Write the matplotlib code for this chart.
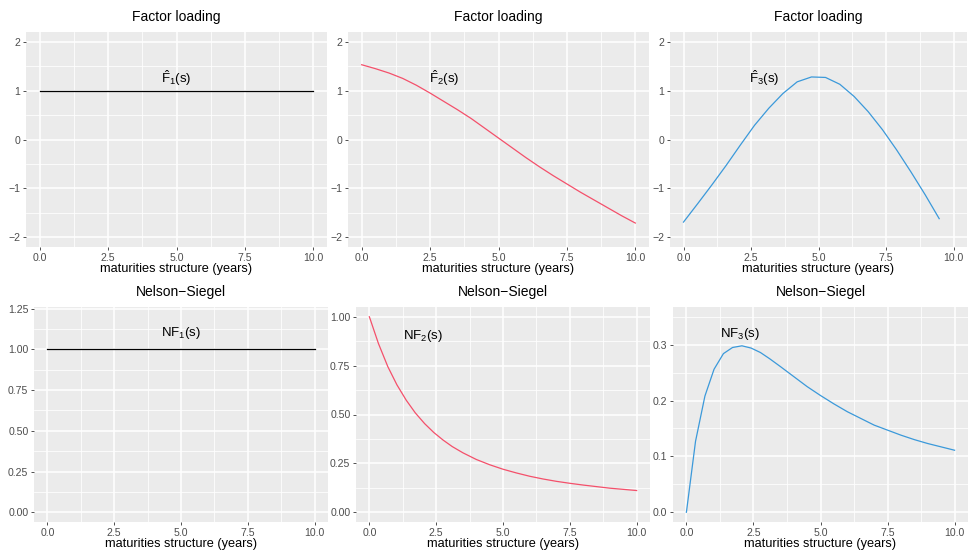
import numpy as np
import matplotlib
matplotlib.use('Agg')
from matplotlib import pyplot as plt
from matplotlib.ticker import FixedLocator, FormatStrFormatter

plt.rcParams['font.family'] = ['Liberation Sans', 'DejaVu Sans']
plt.rcParams['mathtext.fontset'] = 'custom'
plt.rcParams['mathtext.rm'] = 'Liberation Sans'
plt.rcParams['mathtext.it'] = 'Liberation Sans:italic'

# estimated factor loadings
s_f1 = [0.0, 10.0]
f1 = [1.0, 1.0]

s_f2 = [0.0, 0.5, 1.0, 1.5, 2.0, 2.5, 3.0, 3.5, 4.0, 4.5, 5.0,
        5.5, 6.0, 6.5, 7.0, 7.5, 8.0, 8.5, 9.0, 9.5, 10.0]
f2 = [1.53, 1.45, 1.36, 1.25, 1.11, 0.95, 0.78, 0.61, 0.43, 0.23, 0.03,
      -0.17, -0.37, -0.56, -0.74, -0.91, -1.08, -1.24, -1.40, -1.56, -1.71]

s_f3 = [0.0, 0.53, 1.05, 1.58, 2.11, 2.63, 3.16, 3.68, 4.21, 4.74,
        5.26, 5.79, 6.32, 6.84, 7.37, 7.89, 8.42, 8.95, 9.47]
f3 = [-1.69, -1.31, -0.93, -0.53, -0.11, 0.29, 0.64, 0.94, 1.18, 1.28,
      1.27, 1.13, 0.88, 0.57, 0.20, -0.21, -0.66, -1.13, -1.62]

# Nelson-Siegel loadings
s_ns = [0.0, 0.34, 0.69, 1.03, 1.38, 1.72, 2.07, 2.41, 2.76, 3.10, 3.5, 4.0,
        4.5, 5.0, 5.5, 6.0, 6.5, 7.0, 7.5, 8.0, 8.5, 9.0, 9.5, 10.0]
nf1 = [1.0] * len(s_ns)
nf2 = [1.0, 0.863, 0.745, 0.652, 0.573, 0.508, 0.453, 0.408, 0.369, 0.336, 0.304, 0.270,
       0.243, 0.220, 0.201, 0.184, 0.170, 0.158, 0.148, 0.139, 0.131, 0.123, 0.117, 0.111]
nf3 = [0.0, 0.127, 0.208, 0.256, 0.284, 0.295, 0.298, 0.294, 0.286, 0.275, 0.261, 0.243,
       0.225, 0.209, 0.194, 0.180, 0.168, 0.156, 0.147, 0.138, 0.130, 0.123, 0.117, 0.111]

x_ticks = [0.0, 2.5, 5.0, 7.5, 10.0]
top_yticks = [-2, -1, 0, 1, 2]

RED = '#F4506B'
BLUE = '#3B99DA'
W, H = 971, 556


def make_panel(fig, box, title):
    x0, y0, x1, y1 = box
    ax = fig.add_axes([x0 / W, 1 - y1 / H, (x1 - x0) / W, (y1 - y0) / H])
    ax.set_facecolor('#EBEBEB')
    for sp in ax.spines.values():
        sp.set_visible(False)
    ax.set_axisbelow(True)
    ax.grid(which='major', color='white', linewidth=1.1)
    ax.grid(which='minor', color='white', linewidth=0.55)
    ax.tick_params(which='major', length=2.5, width=0.6, color='#333333',
                   labelsize=7.6, labelcolor='#4D4D4D', pad=1.5)
    ax.tick_params(which='minor', length=0)
    ax.set_xlim(-0.5, 10.5)
    ax.xaxis.set_major_locator(FixedLocator(x_ticks))
    ax.xaxis.set_minor_locator(FixedLocator([1.25, 3.75, 6.25, 8.75]))
    ax.xaxis.set_major_formatter(FormatStrFormatter('%.1f'))
    ax.set_title(title, fontsize=10, pad=8)
    ax.set_xlabel('maturities structure (years)', fontsize=9.2, labelpad=0.5)
    return ax


fig = plt.figure(figsize=(W / 100, H / 100), dpi=100)

# top row: estimated factor loadings
top = [(26, 32, 327, 247), (348, 32, 649, 247), (670, 32, 967, 247)]
series = [(s_f1, f1, 'black', 5.0, r'$\hat{\mathrm{F}}_{1}\mathrm{(s)}$'),
          (s_f2, f2, RED, 3.0, r'$\hat{\mathrm{F}}_{2}\mathrm{(s)}$'),
          (s_f3, f3, BLUE, 3.0, r'$\hat{\mathrm{F}}_{3}\mathrm{(s)}$')]
for box, (xs, ys, col, lx, lab) in zip(top, series):
    ax = make_panel(fig, box, 'Factor loading')
    ax.plot(xs, ys, color=col, linewidth=0.9)
    ax.set_ylim(-2.2, 2.2)
    ax.yaxis.set_major_locator(FixedLocator(top_yticks))
    ax.yaxis.set_minor_locator(FixedLocator([-1.5, -0.5, 0.5, 1.5]))
    ax.text(lx, 1.25, lab, fontsize=9.5, ha='center', va='center')

# bottom row: Nelson-Siegel loadings
ax = make_panel(fig, (34, 307, 328, 522), 'Nelson\u2212Siegel')
ax.plot(s_ns, nf1, color='black', linewidth=0.9)
ax.set_ylim(-0.06, 1.26)
ax.yaxis.set_major_locator(FixedLocator([0, 0.25, 0.5, 0.75, 1.0, 1.25]))
ax.yaxis.set_minor_locator(FixedLocator([0.125, 0.375, 0.625, 0.875, 1.125]))
ax.yaxis.set_major_formatter(FormatStrFormatter('%.2f'))
ax.text(5.0, 1.1, r'$\mathrm{NF}_{1}\mathrm{(s)}$', fontsize=9.5, ha='center', va='center')

ax = make_panel(fig, (356, 307, 650, 522), 'Nelson\u2212Siegel')
ax.plot(s_ns, nf2, color=RED, linewidth=0.9)
ax.set_ylim(-0.05, 1.05)
ax.yaxis.set_major_locator(FixedLocator([0, 0.25, 0.5, 0.75, 1.0]))
ax.yaxis.set_minor_locator(FixedLocator([0.125, 0.375, 0.625, 0.875]))
ax.yaxis.set_major_formatter(FormatStrFormatter('%.2f'))
ax.text(2.0, 0.9, r'$\mathrm{NF}_{2}\mathrm{(s)}$', fontsize=9.5, ha='center', va='center')

ax = make_panel(fig, (673, 307, 968, 522), 'Nelson\u2212Siegel')
ax.plot(s_ns, nf3, color=BLUE, linewidth=0.9)
ax.set_ylim(-0.0175, 0.3675)
ax.yaxis.set_major_locator(FixedLocator([0, 0.1, 0.2, 0.3]))
ax.yaxis.set_minor_locator(FixedLocator([0.05, 0.15, 0.25, 0.35]))
ax.yaxis.set_major_formatter(FormatStrFormatter('%.1f'))
ax.text(2.0, 0.32, r'$\mathrm{NF}_{3}\mathrm{(s)}$', fontsize=9.5, ha='center', va='center')

fig.savefig('out.png', dpi=100, facecolor='white')
